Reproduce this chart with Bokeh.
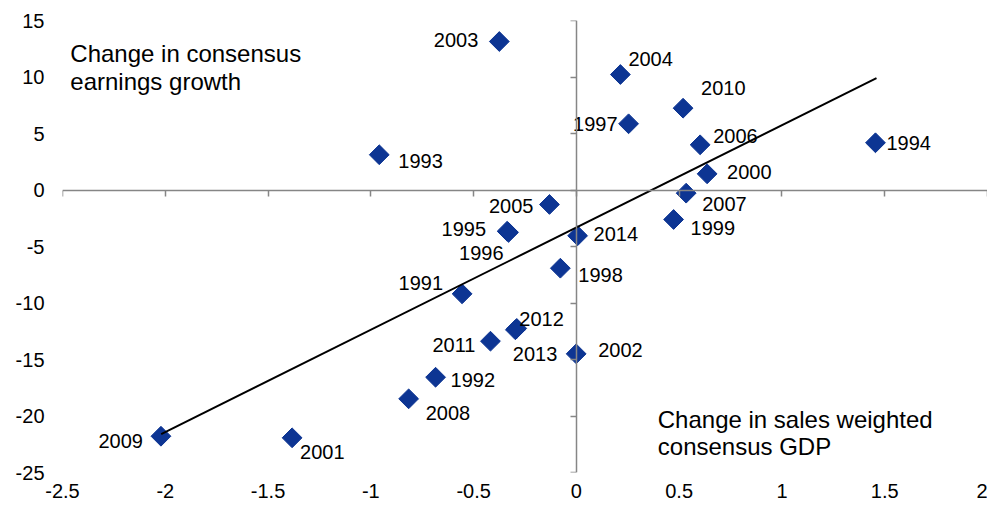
from bokeh.plotting import figure
from bokeh.models import LinearAxis, FixedTicker, Label, ColumnDataSource
from bokeh.core.properties import value
from bokeh.embed import file_html
from bokeh.resources import INLINE

# ---- data ----
years = ["1991", "1992", "1993", "1994", "1995", "1996", "1997", "1998", "1999", "2000",
         "2001", "2002", "2003", "2004", "2005", "2006", "2007", "2008", "2009", "2010",
         "2011", "2012", "2013", "2014"]
gdp_change = [-0.556, -0.685, -0.959, 1.455, -0.337, -0.33, 0.254, -0.078, 0.473, 0.636,
              -1.383, -0.001, -0.375, 0.214, -0.131, 0.602, 0.534, -0.816, -2.021, 0.519,
              -0.418, -0.297, -0.29, 0.006]
eps_change = [-9.19, -16.57, 3.12, 4.18, -3.65, -3.75, 5.86, -6.92, -2.61, 1.43,
              -21.93, -14.50, 13.14, 10.22, -1.28, 4.0, -0.28, -18.48, -21.79, 7.24,
              -13.38, -12.37, -12.25, -4.05]
trend_x = [-2.02, 1.46]
trend_y = [-21.6, 9.9]

x_ticks = [-2.5, -2, -1.5, -1, -0.5, 0, 0.5, 1, 1.5, 2]
x_tick_labels = ["-2.5", "-2", "-1.5", "-1", "-0.5", "0", "0.5", "1", "1.5", "2"]
y_ticks = [-25, -20, -15, -10, -5, 0, 5, 10, 15]
y_tick_labels = ["-25", "-20", "-15", "-10", "-5", "0", "5", "10", "15"]

# ---- label placement (styling) ----
label_align = ["right", "left", "left", "left", "right", "right", "right", "left", "left", "left",
               "left", "left", "right", "left", "right", "left", "left", "left", "right", "left",
               "right", "left", "left", "left"]
label_dx = [-19, 15, 19, 11, -21, -5, -11, 18, 17, 20,
            8, 22, -21, 8, -16, 13, 16, 17, -18, 18,
            -15, 4, -4, 16]
label_dy = [-11, 3, 6, 0, -2, 21, 0, 7, 9, -2,
            14, -4, -2, -16, 2, -9, 11, 14, 5, -20,
            4, -11, 26, -2]

FONT = "Liberation Sans"
AXIS_COLOR = "#868686"
MARK_COLOR = "#0D3593"

p = figure(width=987, height=505, x_range=(-2.5, 2), y_range=(-25, 15),
           output_backend="svg", toolbar_location=None,
           min_border_left=62, min_border_right=0, min_border_top=20, min_border_bottom=33)
p.outline_line_color = None
p.grid.visible = False
p.background_fill_color = "white"
p.border_fill_color = "white"

# label-only axes at the low edges
for ax, ticks, labels in ((p.xaxis[0], x_ticks, x_tick_labels), (p.yaxis[0], y_ticks, y_tick_labels)):
    ax.ticker = FixedTicker(ticks=ticks)
    ax.major_label_overrides = {t: l for t, l in zip(ticks, labels)}
    ax.axis_line_color = None
    ax.major_tick_line_color = None
    ax.minor_tick_line_color = None
    ax.major_tick_out = 0
    ax.major_tick_in = 0
    ax.major_label_text_font = FONT
    ax.major_label_text_font_size = "20px"
    ax.major_label_text_color = "black"
p.yaxis[0].major_label_standoff = 18
p.xaxis[0].major_label_standoff = 11

# crossing axes at zero (lines and ticks only)
def cross_axis(ticks):
    return LinearAxis(fixed_location=0, ticker=FixedTicker(ticks=ticks),
                      axis_line_color=AXIS_COLOR, axis_line_width=1.5,
                      major_tick_line_color=AXIS_COLOR, major_tick_line_width=1.5,
                      major_tick_in=6, major_tick_out=0, minor_tick_line_color=None,
                      major_label_text_font_size="1px", major_label_text_color=None,
                      major_label_standoff=0)

p.add_layout(cross_axis(x_ticks), "above")
p.add_layout(cross_axis(y_ticks), "right")

src = ColumnDataSource(dict(x=gdp_change, y=eps_change, year=years,
                            align=label_align, dx=label_dx, dy=label_dy))

p.scatter("x", "y", source=src, marker="square", angle=0.785398, size=14,
          fill_color=MARK_COLOR, line_color=MARK_COLOR)
p.line(trend_x, trend_y, line_color="black", line_width=2)
p.text("x", "y", text="year", source=src, text_align="align", x_offset="dx", y_offset="dy",
       text_baseline="middle", text_font=value(FONT), text_font_size="20px", text_color="black")

for txt, yy in (("Change in consensus", 12.08), ("earnings growth", 9.58)):
    p.add_layout(Label(x=-2.462, y=yy, text=txt, text_font=FONT, text_font_size="24px",
                       text_baseline="alphabetic", text_color="black"))
for txt, yy in (("Change in sales weighted", -20.31), ("consensus GDP", -22.73)):
    p.add_layout(Label(x=0.396, y=yy, text=txt, text_font=FONT, text_font_size="24px",
                       text_baseline="alphabetic", text_color="black"))

open("out.html", "w").write(file_html(p, INLINE))
